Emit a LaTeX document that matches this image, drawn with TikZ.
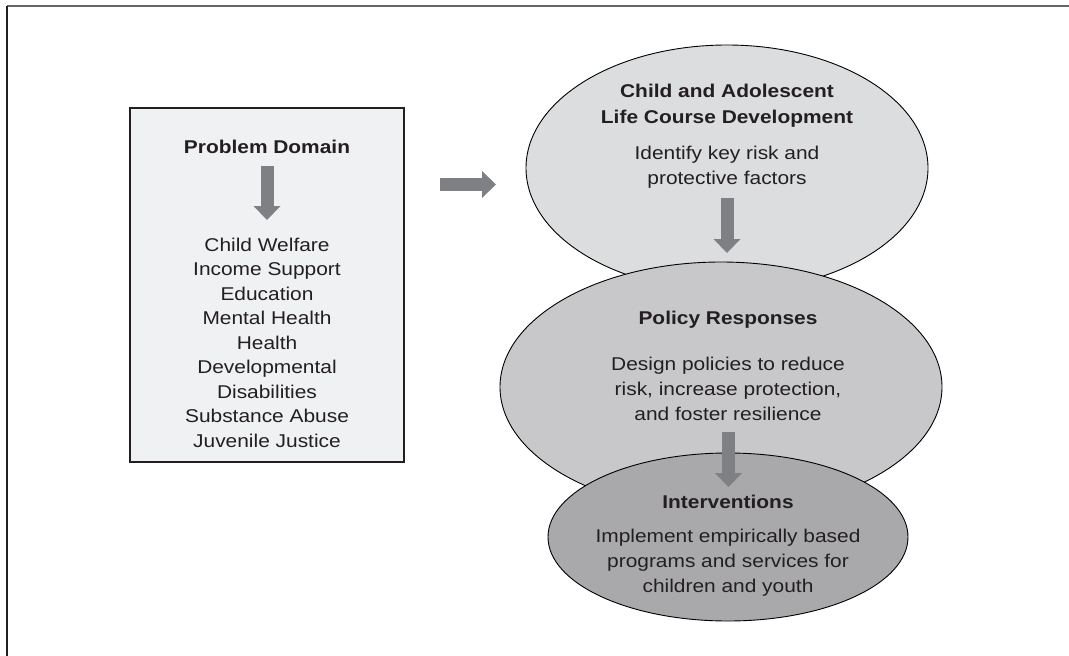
\documentclass[tikz,border=0pt]{standalone}
\usepackage{fontspec}
\setmainfont[FakeStretch=1.13]{Liberation Sans}
\usetikzlibrary{shapes.geometric,arrows.meta}

\definecolor{inkgray}{HTML}{231F20}
\definecolor{framegray}{HTML}{666666}
\definecolor{boxfill}{HTML}{F0F1F3}
\definecolor{develfill}{HTML}{DCDDDF}
\definecolor{policyfill}{HTML}{C8C8CA}
\definecolor{intervfill}{HTML}{A9A9AB}
\definecolor{arrowgray}{HTML}{7F8084}

\begin{document}
\begin{tikzpicture}[
        x=1pt, y=-1pt,
        every node/.style={
            inner sep=0pt,
            align=center,
            text=inkgray,
            font=\fontsize{18.5}{25}\selectfont
            },
        heading/.style={
            font=\fontsize{18.5}{26}\selectfont\bfseries
            },
        bubble/.style={
            ellipse,
            draw=black,
            line width=0.9pt
            },
        blockarrow/.style={
            draw=arrowgray,
            line width=13pt,
            -{Triangle[width=27pt,length=14pt,line width=0pt]}
            }
        ]

\useasboundingbox (0,0) rectangle (1069,656);

%frame
\draw[framegray, line width=2pt] (7,6) -- (1069,6);
\draw[inkgray, line width=1.6pt] (7,6) -- (7,656);

%problem domain
\node[
        draw=inkgray,
        line width=1.3pt,
        fill=boxfill,
        minimum width=274pt,
        minimum height=354pt
        ] (domain) at (267,285) {};
\node[heading] (domaintitle) at (267,147) {Problem Domain};
\node[font=\fontsize{18.5}{24.5}\selectfont] (areas) at (267,342.5)
        {Child Welfare\\Income Support\\Education\\Mental Health\\Health\\
         Developmental\\Disabilities\\Substance Abuse\\Juvenile Justice};

%ellipses
\node[bubble, fill=develfill, minimum width=402pt, minimum height=246pt]
        (devel) at (727,168) {};
\node[bubble, fill=policyfill, minimum width=442pt, minimum height=250pt]
        (policy) at (721,387) {};
\node[bubble, fill=intervfill, minimum width=360pt, minimum height=168pt]
        (interv) at (728,537) {};

%ellipse texts
\node[heading] (develtitle) at (727,105.5)
        {Child and Adolescent\\Life Course Development};
\node (develtext) at (727,167) {Identify key risk and\\protective factors};
\node[heading] (policytitle) at (728,320) {Policy Responses};
\node (policytext) at (728,389)
        {Design policies to reduce\\risk, increase protection,\\and foster resilience};
\node[heading] (intervtitle) at (728,502) {Interventions};
\node (intervtext) at (728,562.5)
        {Implement empirically based\\programs and services for\\children and youth};

%block arrows
\coordinate (domaintop) at (267,166);
\coordinate (domainend) at (267,220);
\coordinate (linkstart) at (440,184.5);
\coordinate (linkend) at (496,184.5);
\coordinate (develtop) at (727,198);
\coordinate (develend) at (727,253);
\coordinate (policytop) at (728.5,432);
\coordinate (policyend) at (728.5,487);

\draw[blockarrow] (domaintop) -- (domainend);
\draw[blockarrow] (linkstart) -- (linkend);
\draw[blockarrow] (develtop) -- (develend);
\draw[blockarrow] (policytop) -- (policyend);
\end{tikzpicture}
\end{document}
